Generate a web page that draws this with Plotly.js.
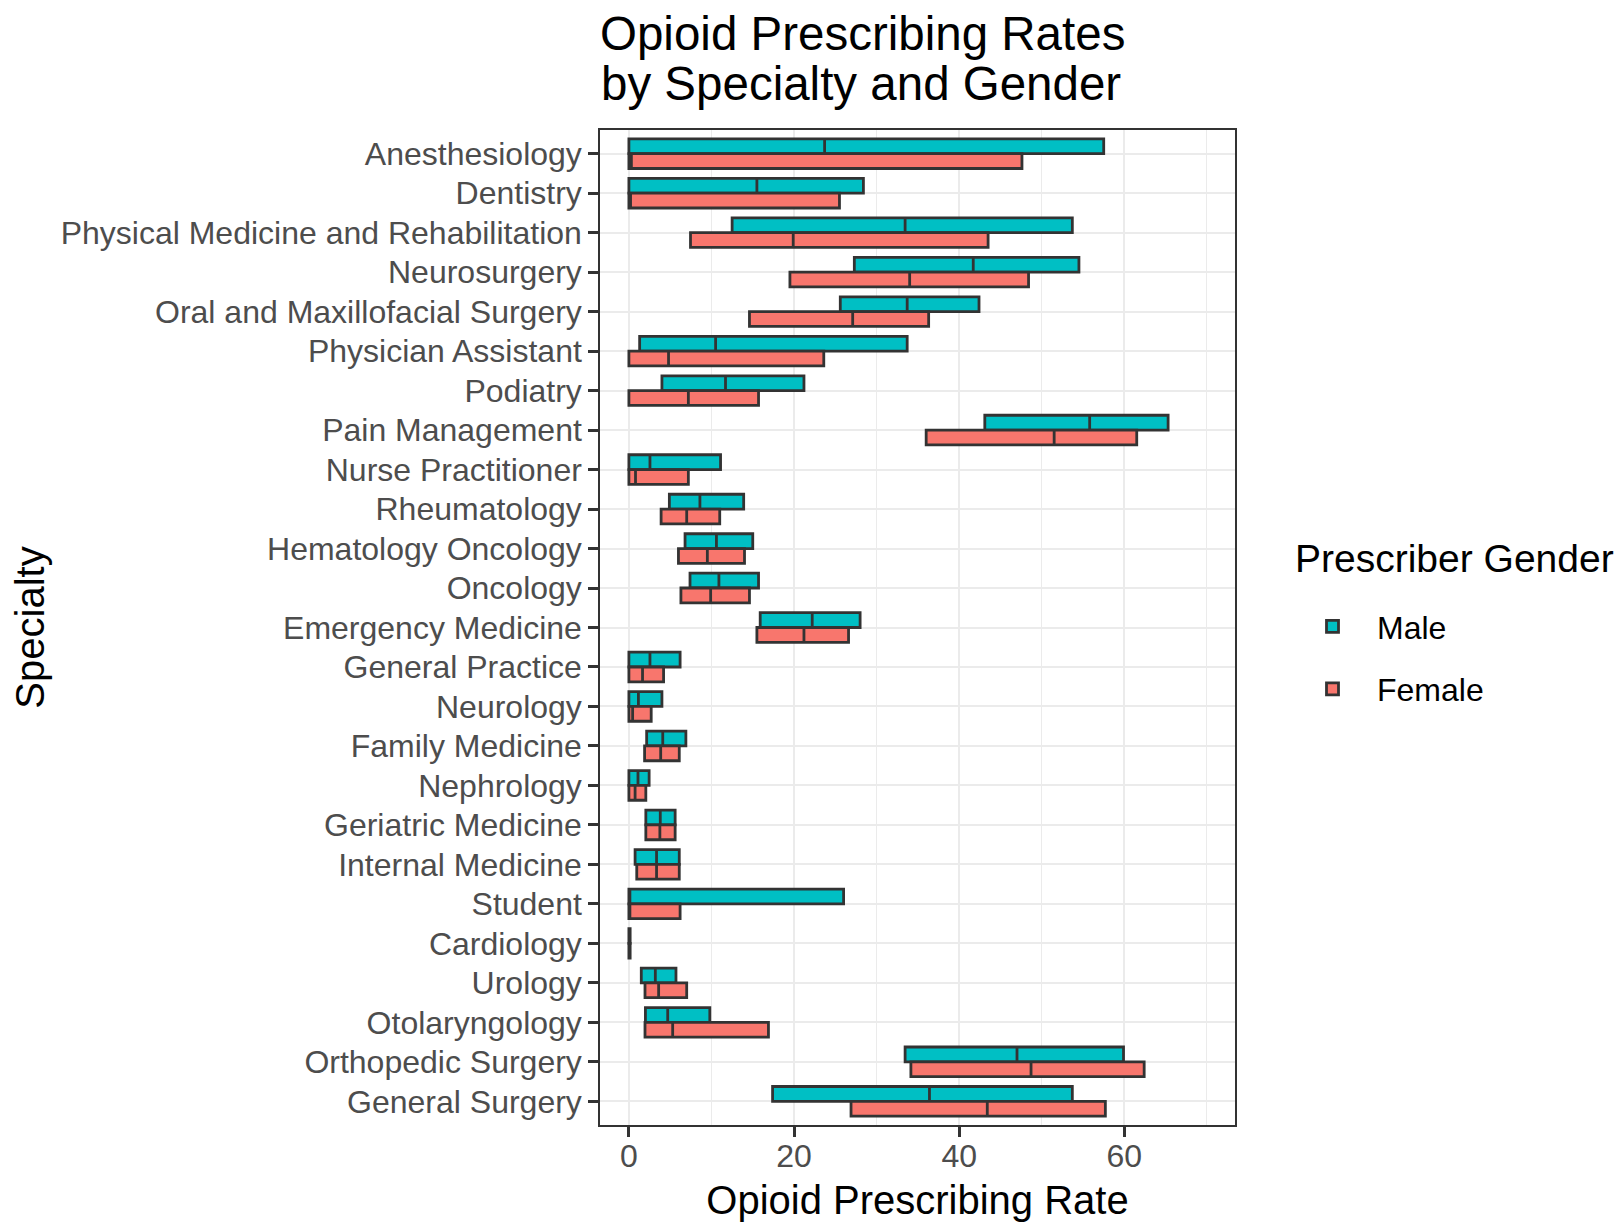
<!DOCTYPE html>
<html>
<head>
<meta charset="utf-8">
<script src="https://cdn.plot.ly/plotly-3.0.1.min.js"></script>
<style>html,body{margin:0;padding:0;background:#fff;}#chart{width:1623px;height:1222px;}</style>
</head>
<body>
<div id="chart"></div>
<script>
const specialties = ["Anesthesiology","Dentistry","Physical Medicine and Rehabilitation","Neurosurgery","Oral and Maxillofacial Surgery","Physician Assistant","Podiatry","Pain Management","Nurse Practitioner","Rheumatology","Hematology Oncology","Oncology","Emergency Medicine","General Practice","Neurology","Family Medicine","Nephrology","Geriatric Medicine","Internal Medicine","Student","Cardiology","Urology","Otolaryngology","Orthopedic Surgery","General Surgery"];

const maleQ1  = [0, 0, 12.5, 27.3, 25.6, 1.3, 4.0, 43.1, 0, 4.9, 6.8, 7.4, 15.9, 0, 0, 2.15, 0, 2.05, 0.75, 0, 0, 1.5, 2.0, 33.45, 17.4];
const maleMed = [23.7, 15.5, 33.45, 41.7, 33.7, 10.5, 11.7, 55.8, 2.55, 8.6, 10.6, 10.9, 22.2, 2.55, 1.15, 4.1, 1.1, 3.8, 3.35, 0.1, 0.05, 3.2, 4.7, 47.0, 36.4];
const maleQ3  = [57.5, 28.4, 53.7, 54.5, 42.4, 33.7, 21.2, 65.3, 11.1, 13.9, 15.0, 15.7, 28.0, 6.2, 4.0, 6.9, 2.45, 5.6, 6.1, 26.0, 0.15, 5.7, 9.8, 59.9, 53.7];

const femaleQ1  = [0, 0, 7.46, 19.5, 14.6, 0, 0, 36.0, 0, 3.9, 6.0, 6.3, 15.5, 0, 0, 1.9, 0, 2.05, 0.95, 0, 0, 1.95, 1.95, 34.15, 26.9];
const femaleMed = [0.3, 0.2, 19.9, 34.0, 27.1, 4.8, 7.2, 51.5, 0.8, 7.0, 9.5, 9.9, 21.2, 1.65, 0.45, 3.85, 0.75, 3.75, 3.35, 0.1, 0.05, 3.6, 5.3, 48.7, 43.4];
const femaleQ3  = [47.6, 25.5, 43.5, 48.4, 36.3, 23.6, 15.7, 61.5, 7.2, 11.0, 14.0, 14.6, 26.6, 4.2, 2.7, 6.1, 2.05, 5.6, 6.1, 6.2, 0.15, 7.0, 16.9, 62.4, 57.7];

const FONT = 'Liberation Sans, Arial, Helvetica, sans-serif';
const OUTLINE = '#333333';

function boxTrace(name, q1, med, q3, fill, group) {
  return {
    type: 'box', orientation: 'h', name: name, legendgroup: group,
    y: specialties, q1: q1, median: med, q3: q3,
    lowerfence: q1, upperfence: q3,
    fillcolor: fill, line: {color: OUTLINE, width: 2.8},
    whiskerwidth: 0, boxpoints: false, hoverinfo: 'x+y'
  };
}

const data = [
  boxTrace('Male', maleQ1, maleMed, maleQ3, '#00BFC4', 'm'),
  boxTrace('Female', femaleQ1, femaleMed, femaleQ3, '#F8766D', 'f')
];

const layout = {
  width: 1623, height: 1222,
  paper_bgcolor: '#fff', plot_bgcolor: '#fff',
  font: {family: FONT, color: '#000'},
  margin: {l: 600, r: 388, t: 130, b: 97, pad: 0},
  title: {
    text: 'Opioid Prescribing Rates',
    font: {family: FONT, size: 47.5, color: '#000'},
    xref: 'container', yref: 'container',
    x: 600/1623, xanchor: 'left',
    y: 1 - 33/1222, yanchor: 'middle'
  },
  annotations: [{
    text: 'by Specialty and Gender',
    font: {family: FONT, size: 47.5, color: '#000'},
    xref: 'paper', yref: 'paper',
    x: 0, xanchor: 'left',
    y: 1 + (130 - 83.6)/995, yanchor: 'middle',
    showarrow: false, borderpad: 0
  }, {
    text: 'Prescriber Gender',
    font: {family: FONT, size: 39, color: '#000'},
    xref: 'paper', yref: 'paper',
    x: (1294 - 600)/635, xanchor: 'left',
    y: (1125 - 558)/995, yanchor: 'middle',
    showarrow: false, borderpad: 0
  }],
  boxmode: 'group', boxgap: 0.25, boxgroupgap: 0,
  showlegend: true,
  legend: {
    xref: 'container', yref: 'container',
    x: 1288/1623, xanchor: 'left',
    y: 1 - 599/1222, yanchor: 'top',
    font: {family: FONT, size: 32, color: '#000'},
    tracegroupgap: 18, itemwidth: 79,
    bgcolor: 'rgba(0,0,0,0)', borderwidth: 0
  },
  xaxis: {
    range: [-3.5, 73.4], autorange: false,
    tick0: 0, dtick: 20,
    showgrid: true, gridcolor: '#EBEBEB', gridwidth: 2.2,
    minor: {tick0: 0, dtick: 10, showgrid: true, gridcolor: '#EBEBEB', gridwidth: 1.1, ticks: ''},
    zeroline: false,
    ticks: 'outside', ticklen: 10, tickwidth: 2.5, tickcolor: OUTLINE,
    ticklabelstandoff: -8,
    showline: true, mirror: true, linecolor: OUTLINE, linewidth: 1.5,
    tickfont: {family: FONT, size: 32, color: '#4D4D4D'},
    title: {text: 'Opioid Prescribing Rate', font: {family: FONT, size: 40, color: '#000'}, standoff: 16}
  },
  yaxis: {
    type: 'category', categoryorder: 'array', categoryarray: specialties,
    range: [24.6, -0.6], autorange: false,
    showgrid: true, gridcolor: '#EBEBEB', gridwidth: 2.2,
    zeroline: false,
    ticks: 'outside', ticklen: 10, tickwidth: 2.5, tickcolor: OUTLINE,
    showline: true, mirror: true, linecolor: OUTLINE, linewidth: 1.5,
    tickfont: {family: FONT, size: 32, color: '#4D4D4D'},
    title: {text: 'Specialty', font: {family: FONT, size: 40, color: '#000'}, standoff: 4}
  }
};

Plotly.newPlot('chart', data, layout, {displayModeBar: false, responsive: false});
</script>
</body>
</html>
